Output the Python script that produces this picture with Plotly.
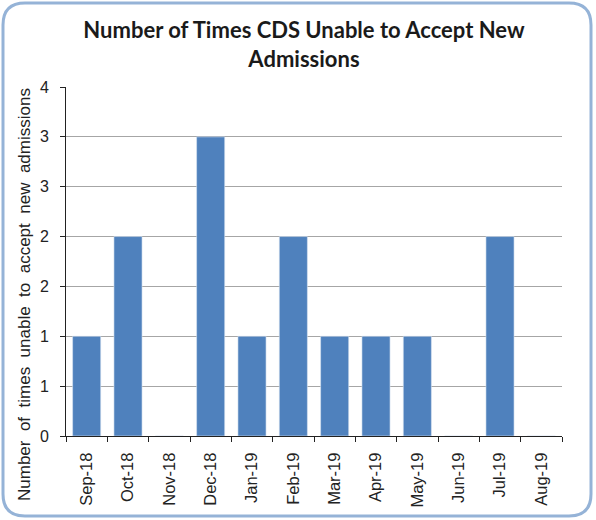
import plotly.graph_objects as go

months = ["Sep-18", "Oct-18", "Nov-18", "Dec-18", "Jan-19", "Feb-19",
          "Mar-19", "Apr-19", "May-19", "Jun-19", "Jul-19", "Aug-19"]
times_unable = [1, 2, 0, 3, 1, 2, 1, 1, 1, 0, 2, 0]

y_tick_values = [0, 0.5, 1, 1.5, 2, 2.5, 3, 3.5]
y_tick_labels = ["0", "1", "1", "2", "2", "3", "3", "4"]

W, H = 596, 520
ML, MR, MT, MB = 66, 34, 87, 84
SANS = "Arial"

# pixel -> paper coordinate helpers
pw, ph = W - ML - MR, H - MT - MB
def px(x): return (x - ML) / pw
def py(y): return (H - MB - y) / ph

fig = go.Figure(go.Bar(
    x=months,
    y=times_unable,
    marker=dict(color="#4f81bd", line=dict(color="#dce6f2", width=0.6)),
    width=0.68,
))

fig.update_layout(
    width=W, height=H,
    margin=dict(l=ML, r=MR, t=MT, b=MB),
    paper_bgcolor="white",
    plot_bgcolor="white",
    showlegend=False,
    title=dict(
        text="<b>Number of Times CDS Unable to Accept New<br>Admissions</b>",
        x=0.51, xanchor="center", y=0.926, yanchor="top",
        font=dict(family="Lato", size=22, color="#1a1a1a"),
    ),
    font=dict(family=SANS, color="#222"),
)

fig.update_xaxes(
    type="category",
    tickson="boundaries",
    ticks="outside", ticklen=5, tickcolor="#222",
    showline=True, linecolor="#222", linewidth=1,
    showgrid=False,
    tickangle=-90,
    ticklabelstandoff=9,
    tickfont=dict(size=16.5, family=SANS, color="#222"),
)

fig.update_yaxes(
    range=[0, 3.5],
    tickvals=y_tick_values,
    ticktext=y_tick_labels,
    ticks="outside", ticklen=5, tickcolor="#222",
    showline=True, linecolor="#222", linewidth=1,
    showgrid=True, gridcolor="#a6a6a6", gridwidth=1,
    zeroline=False,
    ticklabelstandoff=8,
    tickfont=dict(size=16, family=SANS, color="#222"),
)

# y-axis title, set a little below the plot's vertical centre
fig.add_annotation(
    text="Number  of  times  unable  to  accept  new  admissions",
    xref="paper", yref="paper", x=px(24), y=py(295),
    xanchor="center", yanchor="middle", textangle=-90, showarrow=False,
    font=dict(size=17, family=SANS, color="#222"),
)

# rounded frame around the whole chart
x0, y0, x1, y1, r = 3, 3, 591, 516, 22
frame = (f"M {px(x0+r)},{py(y0)} L {px(x1-r)},{py(y0)} Q {px(x1)},{py(y0)} {px(x1)},{py(y0+r)} "
         f"L {px(x1)},{py(y1-r)} Q {px(x1)},{py(y1)} {px(x1-r)},{py(y1)} L {px(x0+r)},{py(y1)} "
         f"Q {px(x0)},{py(y1)} {px(x0)},{py(y1-r)} L {px(x0)},{py(y0+r)} Q {px(x0)},{py(y0)} {px(x0+r)},{py(y0)} Z")
fig.add_shape(type="path", path=frame, xref="paper", yref="paper",
              line=dict(color="#95b3d7", width=3), layer="above")

fig.write_html("out.html")
